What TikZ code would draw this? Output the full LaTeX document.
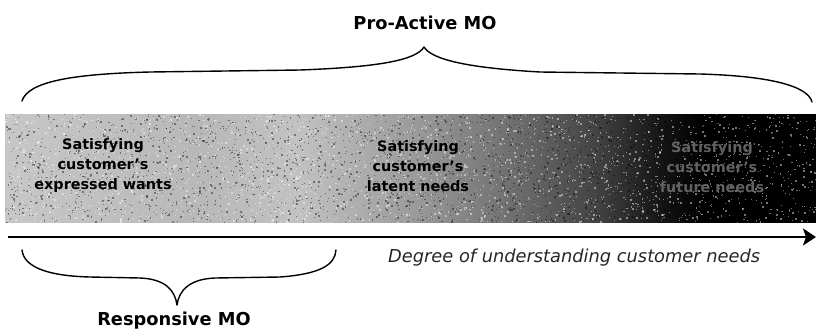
\documentclass[tikz,border=0pt]{standalone}
\usepackage{fontspec}
\setmainfont{DejaVu Sans}
\usetikzlibrary{arrows.meta}

% light grey on the left, black on the right (stops between 25bp and 75bp)
\pgfdeclarehorizontalshading{bandshade}{100bp}{
  color(0bp)=(black!22);
  color(25bp)=(black!22);
  color(37bp)=(black!28);
  color(43bp)=(black!24);
  color(50.5bp)=(black!40);
  color(56.75bp)=(black!58);
  color(61.5bp)=(black!74);
  color(65.5bp)=(black!92);
  color(68bp)=(black);
  color(75bp)=(black);
  color(100bp)=(black)}

\tikzset{
  bracket/.style={line width=1.4pt, line cap=round, line join=round},
  heading/.style={font=\bfseries\fontsize{17.8}{20}\selectfont, inner sep=0pt},
  axislabel/.style={font=\itshape\fontsize{17.8}{20}\selectfont, inner sep=0pt, text=black!85},
  bandtext/.style={font=\bfseries\fontsize{14.4}{20}\selectfont, align=center, inner sep=0pt},
  axis/.style={line width=2.6pt, -{Stealth[length=13pt,width=17pt,inset=3pt]}}
}

\begin{document}
\begin{tikzpicture}[x=1pt,y=-1pt]
\useasboundingbox (0,0) rectangle (816,330);

% gradient band with a grainy texture
\shade[shading=bandshade] (5,114) rectangle (816,222);
\begin{scope}
  \clip (5,114) rectangle (816,222);
  \pgfmathsetseed{11}
  \foreach \k in {1,...,4800}{
    \pgfmathsetmacro{\gx}{5+811*rnd}
    \pgfmathsetmacro{\gy}{114+108*rnd}
    \pgfmathsetmacro{\gs}{0.6+1.3*rnd}
    \pgfmathtruncatemacro{\gc}{rnd<0.5 ? 0 : 1}
    \ifnum\gc=0
      \fill[black,opacity=.4] (\gx,\gy) rectangle ++(\gs,\gs);
    \else
      \fill[white,opacity=.45] (\gx,\gy) rectangle ++(\gs,\gs);
    \fi
  }
\end{scope}

% texts inside the band
\node[bandtext] (wants)  at (103,166) {Satisfying\\customer's\\expressed wants};
\node[bandtext] (latent) at (418,166) {Satisfying\\customer's\\latent needs};
\node[bandtext, text=black!62] (future) at (712,167) {Satisfying\\customer's\\future needs};

% upper bracket and its heading
\coordinate (pl) at (22,101);
\coordinate (pt) at (424,47);
\coordinate (pr) at (812,102);
\draw[bracket] (pl) .. controls (28,82) and (70,74) .. (150,72)
  -- (300,70) .. controls (380,67) and (416,60) .. (pt)
  .. controls (432,60) and (470,68) .. (540,72)
  -- (700,74) .. controls (770,76) and (808,86) .. (pr);
\node[heading, anchor=base] (pro) at (425,29) {Pro-Active MO};

% axis
\coordinate (a0) at (8,237);
\coordinate (a1) at (816,237);
\draw[axis] (a0) -- (a1);
\node[axislabel, anchor=base west] (deg) at (388,262) {Degree of understanding customer needs};

% lower bracket and its heading
\coordinate (ql) at (22,250);
\coordinate (qt) at (177,305);
\coordinate (qr) at (336,250);
\draw[bracket] (ql) .. controls (24,268) and (50,276) .. (90,277)
  -- (140,278) .. controls (165,279) and (175,290) .. (qt)
  .. controls (179,290) and (190,279) .. (215,278)
  -- (280,277) .. controls (320,274) and (335,265) .. (qr);
\node[heading, anchor=base] (resp) at (174,325) {Responsive MO};
\end{tikzpicture}
\end{document}
